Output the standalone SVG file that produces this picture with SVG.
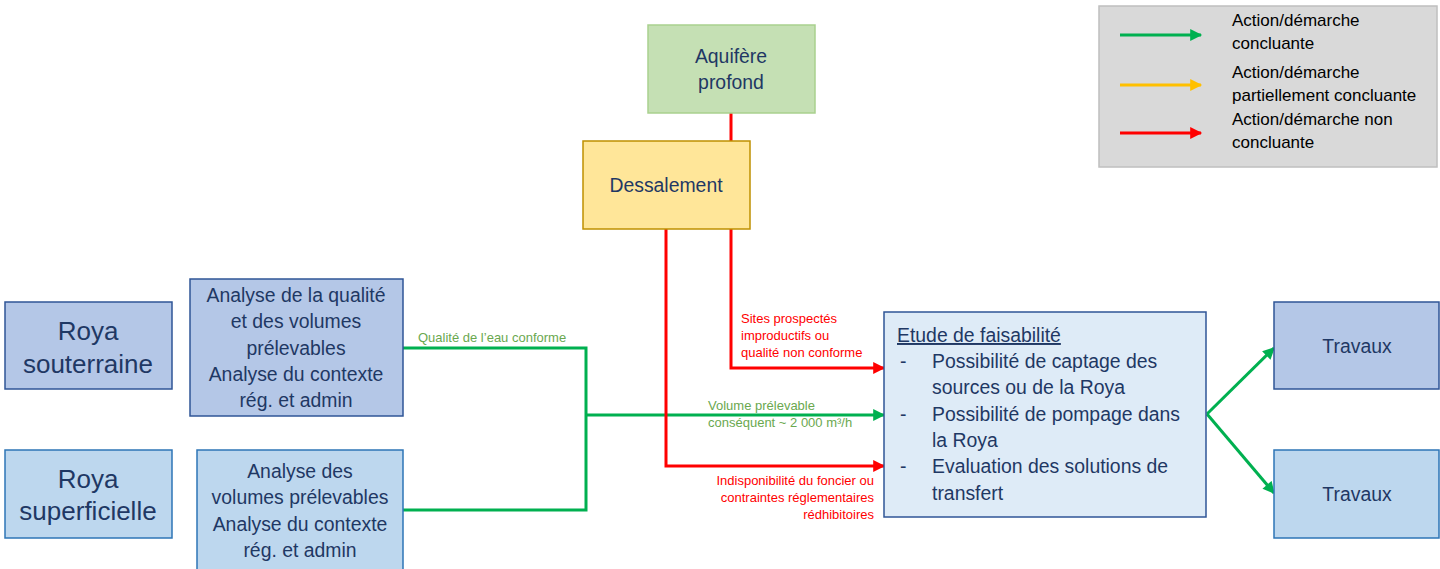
<svg xmlns="http://www.w3.org/2000/svg" width="1440" height="569" viewBox="0 0 1440 569">
<style>
text{font-family:"Liberation Sans",Arial,sans-serif;fill:#1F3864}
.n{font-size:19.4px}
.big{font-size:26px}
.lg{font-size:17px;fill:#000}
.gl{font-size:13px;fill:#6AA84F}
.rl{font-size:13px;fill:#FF0000}
.g{stroke:#00B050;stroke-width:3;fill:none}
.r{stroke:#FF0000;stroke-width:3;fill:none}
.y{stroke:#FFC000;stroke-width:3;fill:none}
</style>
<defs>
<marker id="ag" viewBox="0 0 10 10" refX="9" refY="5" markerWidth="13" markerHeight="12" markerUnits="userSpaceOnUse" orient="auto"><path d="M0,0L10,5L0,10z" fill="#00B050"/></marker>
<marker id="ar" viewBox="0 0 10 10" refX="9" refY="5" markerWidth="13" markerHeight="12" markerUnits="userSpaceOnUse" orient="auto"><path d="M0,0L10,5L0,10z" fill="#FF0000"/></marker>
<marker id="ay" viewBox="0 0 10 10" refX="9" refY="5" markerWidth="13" markerHeight="12" markerUnits="userSpaceOnUse" orient="auto"><path d="M0,0L10,5L0,10z" fill="#FFC000"/></marker>
</defs>
<rect width="1440" height="569" fill="#fff"/>
<g id="connectors">
<path class="g" d="M403,348H586V510H403"/>
<path class="g" d="M586,415H884" marker-end="url(#ag)"/>
<path class="r" d="M731,113V368H884" marker-end="url(#ar)"/>
<path class="r" d="M666,229V466H884" marker-end="url(#ar)"/>
<path class="g" d="M1207,414L1274,348" marker-end="url(#ag)"/>
<path class="g" d="M1207,414L1274,493" marker-end="url(#ag)"/>
<text class="gl" x="418" y="342">Qualité de l’eau conforme</text>
<text class="gl" x="708" y="410">Volume prélevable</text>
<text class="gl" x="708" y="427">conséquent ~ 2 000 m³/h</text>
<text class="rl" x="741" y="323">Sites prospectés</text>
<text class="rl" x="741" y="340">improductifs ou</text>
<text class="rl" x="741" y="357">qualité non conforme</text>
<text class="rl" x="874" y="485" text-anchor="end">Indisponibilité du foncier ou</text>
<text class="rl" x="874" y="502" text-anchor="end">contraintes réglementaires</text>
<text class="rl" x="874" y="519" text-anchor="end">rédhibitoires</text>
</g>
<g id="aquifere">
<rect x="648" y="25" width="167" height="88" fill="#C5E0B4" stroke="#A9D18E" stroke-width="1.5"/>
<text class="n" x="731" y="63" text-anchor="middle">Aquifère</text>
<text class="n" x="731" y="89" text-anchor="middle">profond</text>
</g>
<g id="dessalement">
<rect x="583" y="141" width="167" height="88" fill="#FFE699" stroke="#BF9000" stroke-width="1.5"/>
<text class="n" x="666" y="192" text-anchor="middle">Dessalement</text>
</g>
<g id="roya-souterraine">
<rect x="5" y="302" width="167" height="87" fill="#B4C7E7" stroke="#2F5597" stroke-width="1.5"/>
<text class="big" x="88" y="340" text-anchor="middle">Roya</text>
<text class="big" x="88" y="373" text-anchor="middle">souterraine</text>
</g>
<g id="roya-superficielle">
<rect x="5" y="450" width="167" height="88" fill="#BDD7EE" stroke="#2E75B6" stroke-width="1.5"/>
<text class="big" x="88" y="488" text-anchor="middle">Roya</text>
<text class="big" x="88" y="520" text-anchor="middle">superficielle</text>
</g>
<g id="analyse-1">
<rect x="190" y="279" width="213" height="137" fill="#B4C7E7" stroke="#2F5597" stroke-width="1.5"/>
<text class="n" x="296" y="302" text-anchor="middle">Analyse de la qualité</text>
<text class="n" x="296" y="328" text-anchor="middle">et des volumes</text>
<text class="n" x="296" y="355" text-anchor="middle">prélevables</text>
<text class="n" x="296" y="381" text-anchor="middle">Analyse du contexte</text>
<text class="n" x="296" y="407" text-anchor="middle">rég. et admin</text>
</g>
<g id="analyse-2">
<rect x="197" y="450" width="206" height="125" fill="#BDD7EE" stroke="#2E75B6" stroke-width="1.5"/>
<text class="n" x="300" y="478" text-anchor="middle">Analyse des</text>
<text class="n" x="300" y="504" text-anchor="middle">volumes prélevables</text>
<text class="n" x="300" y="531" text-anchor="middle">Analyse du contexte</text>
<text class="n" x="300" y="557" text-anchor="middle">rég. et admin</text>
</g>
<g id="etude">
<rect x="884" y="312" width="322" height="205" fill="#DEEBF7" stroke="#2F5597" stroke-width="1.5"/>
<text class="n" x="897" y="342" text-decoration="underline">Etude de faisabilité</text>
<text class="n" x="900" y="368">-</text>
<text class="n" x="932" y="368">Possibilité de captage des</text>
<text class="n" x="932" y="394">sources ou de la Roya</text>
<text class="n" x="900" y="421">-</text>
<text class="n" x="932" y="421">Possibilité de pompage dans</text>
<text class="n" x="932" y="447">la Roya</text>
<text class="n" x="900" y="473">-</text>
<text class="n" x="932" y="473">Evaluation des solutions de</text>
<text class="n" x="932" y="500">transfert</text>
</g>
<g id="travaux-1">
<rect x="1274" y="302" width="165" height="87" fill="#B4C7E7" stroke="#2F5597" stroke-width="1.5"/>
<text class="n" x="1357" y="353" text-anchor="middle">Travaux</text>
</g>
<g id="travaux-2">
<rect x="1274" y="450" width="165" height="88" fill="#BDD7EE" stroke="#2E75B6" stroke-width="1.5"/>
<text class="n" x="1357" y="501" text-anchor="middle">Travaux</text>
</g>
<g id="legend">
<rect x="1099" y="6" width="338" height="161" fill="#D9D9D9" stroke="#BFBFBF" stroke-width="1.5"/>
<path class="g" d="M1120,35H1201" marker-end="url(#ag)"/>
<path class="y" d="M1120,85H1201" marker-end="url(#ay)"/>
<path class="r" d="M1120,133H1201" marker-end="url(#ar)"/>
<text class="lg" x="1232" y="26">Action/démarche</text>
<text class="lg" x="1232" y="49">concluante</text>
<text class="lg" x="1232" y="78">Action/démarche</text>
<text class="lg" x="1232" y="101">partiellement concluante</text>
<text class="lg" x="1232" y="125">Action/démarche non</text>
<text class="lg" x="1232" y="148">concluante</text>
</g>
</svg>
